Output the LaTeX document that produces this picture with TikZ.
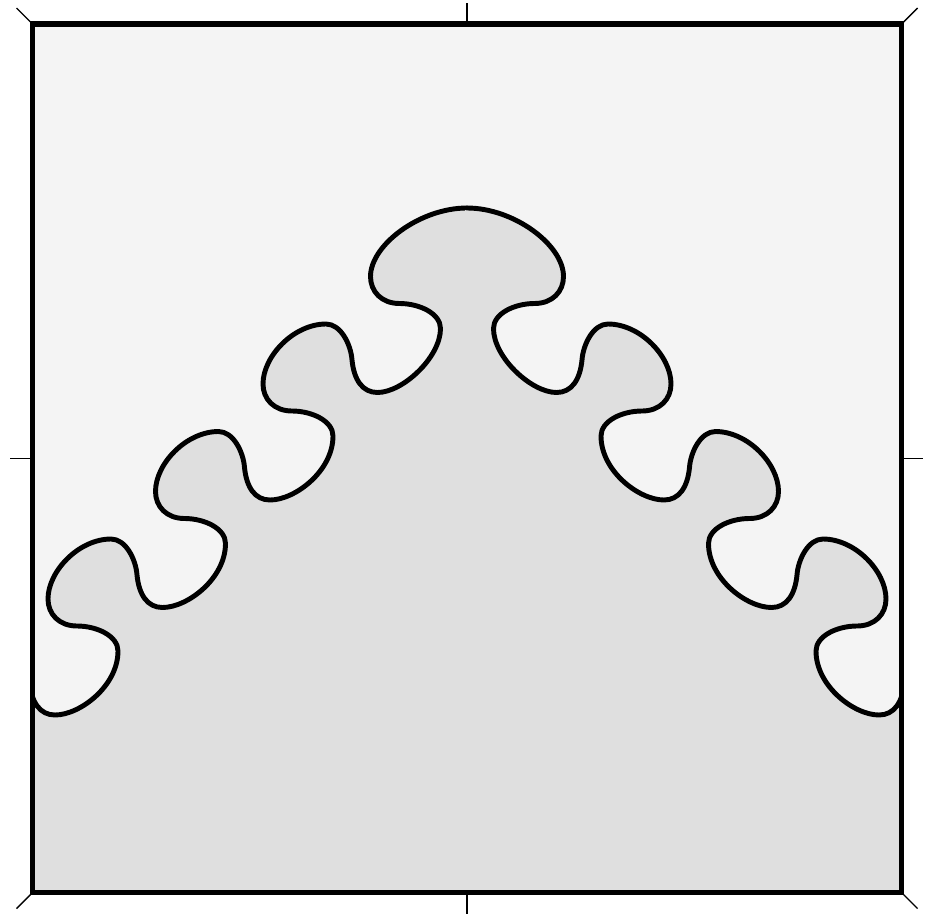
\documentclass[tikz,border=0pt]{standalone}
\usepackage{xcolor}
\usepackage{tikz}

\definecolor{paper}{HTML}{F4F4F4}
\definecolor{tile}{HTML}{DFDFDF}

% left half of the tile boundary, from the left edge up to the cap
\newcommand{\halfcurve}{%
  (29.5,682.5) .. controls (31.5,702.5) and (40,715) .. (55,715)
  \foreach \k [evaluate=\k as \ox using 55+107.5*\k,
               evaluate=\k as \oy using 715-107.5*\k] in {0,1,2}{
    .. controls ({\ox+25},\oy) and ({\ox+63},{\oy-29}) .. ({\ox+63},{\oy-64})
    .. controls ({\ox+63},{\oy-79}) and ({\ox+42},{\oy-89}) .. ({\ox+22},{\oy-89})
    .. controls ({\ox+4},{\oy-89}) and ({\ox-7},{\oy-101}) .. ({\ox-7},{\oy-116})
    .. controls ({\ox-7},{\oy-144}) and ({\ox+24},{\oy-176}) .. ({\ox+56},{\oy-176})
    .. controls ({\ox+71},{\oy-176}) and ({\ox+81},{\oy-155}) .. ({\ox+82},{\oy-140})
    .. controls ({\ox+84},{\oy-120}) and ({\ox+92.5},{\oy-107.5}) .. ({\ox+107.5},{\oy-107.5})
  }
  .. controls (402.5,392.5) and (440.5,357.5) .. (440.5,328.5)
  .. controls (440.5,313.5) and (419.5,303.5) .. (399.5,303.5)
  .. controls (381.5,303.5) and (370.5,291.5) .. (370.5,276.5)
  .. controls (370.5,245) and (420,208) .. (467,208)}

\begin{document}
\begin{tikzpicture}[
        x=0.02cm, y=-0.02cm,
        border/.style={draw=black, line width=2.9pt, line join=miter},
        tileline/.style={draw=black, line width=2.8pt, line join=round, line cap=round},
        tilefill/.style={fill=tile},
        tickline/.style={draw=black, line width=0.8pt}
    ]
    \useasboundingbox (0,0) rectangle (930,916);

    % Background
    \fill[paper] (32.5,24) rectangle (901.5,892.5);

    % Tiles
    \begin{scope}
        \clip (32.5,24) rectangle (901.5,892.5);
        \foreach \side in {1,-1}{
            \begin{scope}[shift={({467-467*\side},0)}, xscale=\side]
                \path[tilefill] \halfcurve -- (470,212) -- (470,900) -- (20,900) -- cycle;
                \path[tileline] \halfcurve;
            \end{scope}
        }
    \end{scope}

    % Frame
    \path[border] (32.5,24) rectangle (901.5,892.5);

    % Ticks
    \draw[tickline] (467,24) -- (467,3);
    \draw[tickline] (467,892.5) -- (467,913.5);
    \draw[tickline] (32.5,458.25) -- (10,458.25);
    \draw[tickline] (901.5,458.25) -- (923,458.25);
    \draw[tickline] (32.5,24) -- (16.5,8);
    \draw[tickline] (901.5,24) -- (917.5,8);
    \draw[tickline] (32.5,892.5) -- (16.5,908.5);
    \draw[tickline] (901.5,892.5) -- (917.5,908.5);

\end{tikzpicture}
\end{document}
